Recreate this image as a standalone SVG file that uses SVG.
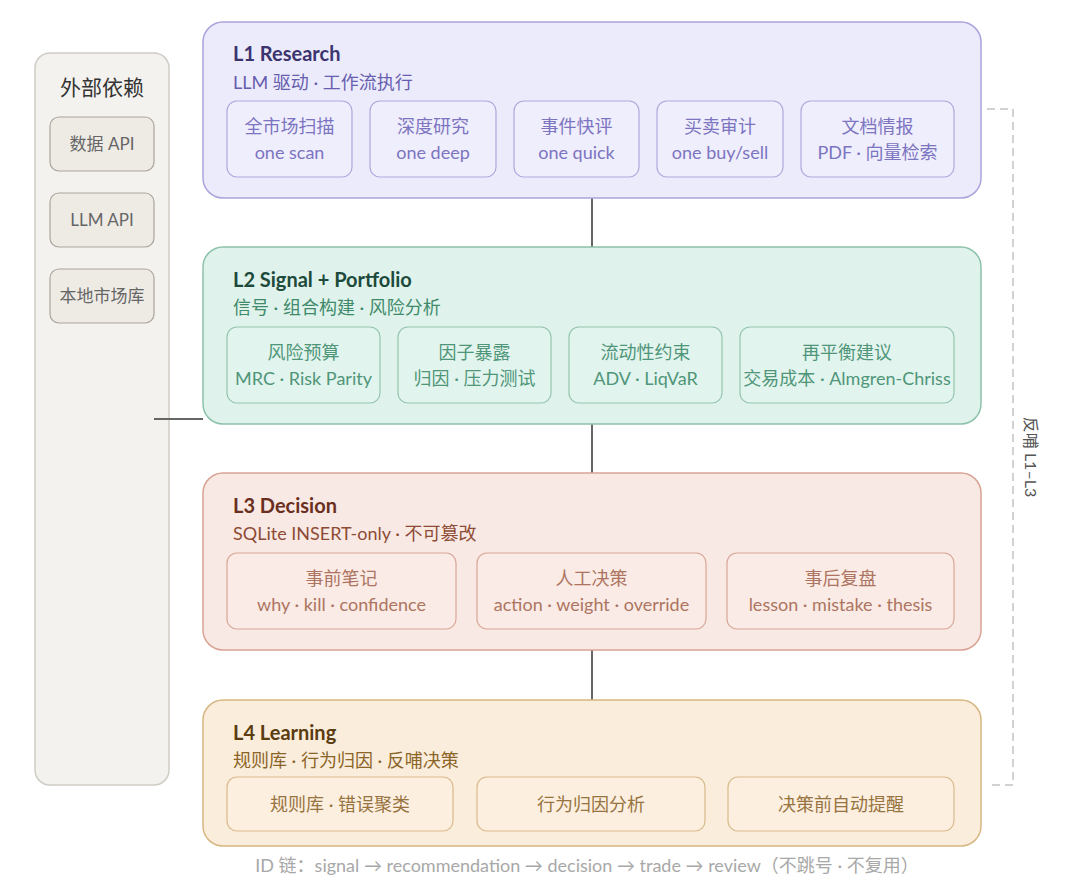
<svg xmlns="http://www.w3.org/2000/svg" width="1080" height="884" viewBox="0 0 1080 884">
<style>
text{font-family:"Lato","Noto Sans CJK SC","Noto Sans",sans-serif;}
.t{font-size:20px;font-weight:700;}
.s{font-size:18px;}
.c{font-size:18px;text-anchor:middle;}
.main{stroke-width:1.5;}
.sub{stroke-width:1.2;}
.conn{stroke:#666;stroke-width:2;fill:none;}
.l1 .main{fill:#ecebfb;stroke:#aaa4dc;} .l1 .sub{fill:#efeefc;stroke:#aea9dd;}
.l1 .t{fill:#3b346f;} .l1 .s{fill:#675eaf;} .l1 .c{fill:#7c74c1;}
.l2 .main{fill:#dff3ec;stroke:#8cc2a9;} .l2 .sub{fill:#e2f4ee;stroke:#94c5ae;}
.l2 .t{fill:#1d4a3b;} .l2 .s{fill:#3f8a6b;} .l2 .c{fill:#4f9679;}
.l3 .main{fill:#f9e9e4;stroke:#d8a394;} .l3 .sub{fill:#faebe6;stroke:#d8a797;}
.l3 .t{fill:#6a2f1e;} .l3 .s{fill:#8d4b35;} .l3 .c{fill:#ad7561;}
.l4 .main{fill:#fbeddb;stroke:#d7b683;} .l4 .sub{fill:#fcefdf;stroke:#d8ba8b;}
.l4 .t{fill:#5a3c10;} .l4 .s{fill:#8b6428;} .l4 .c{fill:#97733f;}
.ext .main{fill:#f4f2ee;stroke:#cfccc5;} .ext .sub{fill:#eeebe5;stroke:#aaa59d;}
.ext .c{fill:#666;font-size:17px;}
</style>

<g id="external" class="ext">
  <rect class="main" x="35" y="53" width="134" height="732" rx="15"/>
  <text x="102" y="95" style="font-size:21px;fill:#333;text-anchor:middle">外部依赖</text>
  <g id="ext-data">
    <rect class="sub" x="50" y="117" width="104" height="54" rx="9"/>
    <text class="c" x="102" y="150">数据 API</text>
  </g>
  <g id="ext-llm">
    <rect class="sub" x="50" y="193" width="104" height="54" rx="9"/>
    <text class="c" x="102" y="226">LLM API</text>
  </g>
  <g id="ext-local">
    <rect class="sub" x="50" y="269" width="104" height="54" rx="9"/>
    <text class="c" x="102" y="302">本地市场库</text>
  </g>
</g>

<g id="connectors">
  <line class="conn" x1="592" y1="198" x2="592" y2="247"/>
  <line class="conn" x1="592" y1="424" x2="592" y2="473"/>
  <line class="conn" x1="592" y1="650" x2="592" y2="700"/>
  <line class="conn" x1="154" y1="419" x2="203" y2="419"/>
  <path d="M987 109 H1013 V785 H989" fill="none" stroke="#c4c4c4" stroke-width="1.5" stroke-dasharray="8 5"/>
  <text transform="translate(1025,457) rotate(90)" style="font-size:16px;fill:#555;text-anchor:middle">反哺 L1–L3</text>
</g>

<g id="L1" class="l1">
  <rect class="main" x="203" y="22" width="778" height="176" rx="20"/>
  <text class="t" x="233" y="61">L1 Research</text>
  <text class="s" x="233" y="89">LLM 驱动 · 工作流执行</text>
  <g id="L1-scan"><rect class="sub" x="227" y="101" width="125" height="76" rx="10"/>
    <text class="c" x="289.5" y="133">全市场扫描</text><text class="c" x="289.5" y="159">one scan</text></g>
  <g id="L1-deep"><rect class="sub" x="370" y="101" width="126" height="76" rx="10"/>
    <text class="c" x="433" y="133">深度研究</text><text class="c" x="433" y="159">one deep</text></g>
  <g id="L1-quick"><rect class="sub" x="514" y="101" width="125" height="76" rx="10"/>
    <text class="c" x="576.5" y="133">事件快评</text><text class="c" x="576.5" y="159">one quick</text></g>
  <g id="L1-audit"><rect class="sub" x="657" y="101" width="126" height="76" rx="10"/>
    <text class="c" x="720" y="133">买卖审计</text><text class="c" x="720" y="159">one buy/sell</text></g>
  <g id="L1-doc"><rect class="sub" x="801" y="101" width="153" height="76" rx="10"/>
    <text class="c" x="877.5" y="133">文档情报</text><text class="c" x="877.5" y="159">PDF · 向量检索</text></g>
</g>

<g id="L2" class="l2">
  <rect class="main" x="203" y="247" width="778" height="177" rx="20"/>
  <text class="t" x="233" y="287">L2 Signal + Portfolio</text>
  <text class="s" x="233" y="314">信号 · 组合构建 · 风险分析</text>
  <g id="L2-risk"><rect class="sub" x="227" y="327" width="153" height="76" rx="10"/>
    <text class="c" x="303.5" y="359">风险预算</text><text class="c" x="303.5" y="385">MRC · Risk Parity</text></g>
  <g id="L2-factor"><rect class="sub" x="398" y="327" width="153" height="76" rx="10"/>
    <text class="c" x="474.5" y="359">因子暴露</text><text class="c" x="474.5" y="385">归因 · 压力测试</text></g>
  <g id="L2-liq"><rect class="sub" x="569" y="327" width="153" height="76" rx="10"/>
    <text class="c" x="645.5" y="359">流动性约束</text><text class="c" x="645.5" y="385">ADV · LiqVaR</text></g>
  <g id="L2-rebal"><rect class="sub" x="740" y="327" width="214" height="76" rx="10"/>
    <text class="c" x="847" y="359">再平衡建议</text><text class="c" x="847" y="385">交易成本 · Almgren-Chriss</text></g>
</g>

<g id="L3" class="l3">
  <rect class="main" x="203" y="473" width="778" height="177" rx="20"/>
  <text class="t" x="233" y="513">L3 Decision</text>
  <text class="s" x="233" y="540">SQLite INSERT-only · 不可篡改</text>
  <g id="L3-pre"><rect class="sub" x="227" y="553" width="229" height="76" rx="10"/>
    <text class="c" x="341.5" y="585">事前笔记</text><text class="c" x="341.5" y="611">why · kill · confidence</text></g>
  <g id="L3-human"><rect class="sub" x="477" y="553" width="229" height="76" rx="10"/>
    <text class="c" x="591.5" y="585">人工决策</text><text class="c" x="591.5" y="611">action · weight · override</text></g>
  <g id="L3-post"><rect class="sub" x="727" y="553" width="227" height="76" rx="10"/>
    <text class="c" x="840.5" y="585">事后复盘</text><text class="c" x="840.5" y="611">lesson · mistake · thesis</text></g>
</g>

<g id="L4" class="l4">
  <rect class="main" x="203" y="700" width="778" height="146" rx="20"/>
  <text class="t" x="233" y="740">L4 Learning</text>
  <text class="s" x="233" y="767">规则库 · 行为归因 · 反哺决策</text>
  <g id="L4-rules"><rect class="sub" x="227" y="777" width="226" height="54" rx="10"/>
    <text class="c" x="340" y="811">规则库 · 错误聚类</text></g>
  <g id="L4-attr"><rect class="sub" x="477" y="777" width="228" height="54" rx="10"/>
    <text class="c" x="591" y="811">行为归因分析</text></g>
  <g id="L4-remind"><rect class="sub" x="728" y="777" width="226" height="54" rx="10"/>
    <text class="c" x="841" y="811">决策前自动提醒</text></g>
</g>

<text x="587" y="872" style="font-size:18px;fill:#a8a8a8;text-anchor:middle">ID 链：signal → recommendation → decision → trade → review（不跳号 · 不复用）</text>
</svg>
